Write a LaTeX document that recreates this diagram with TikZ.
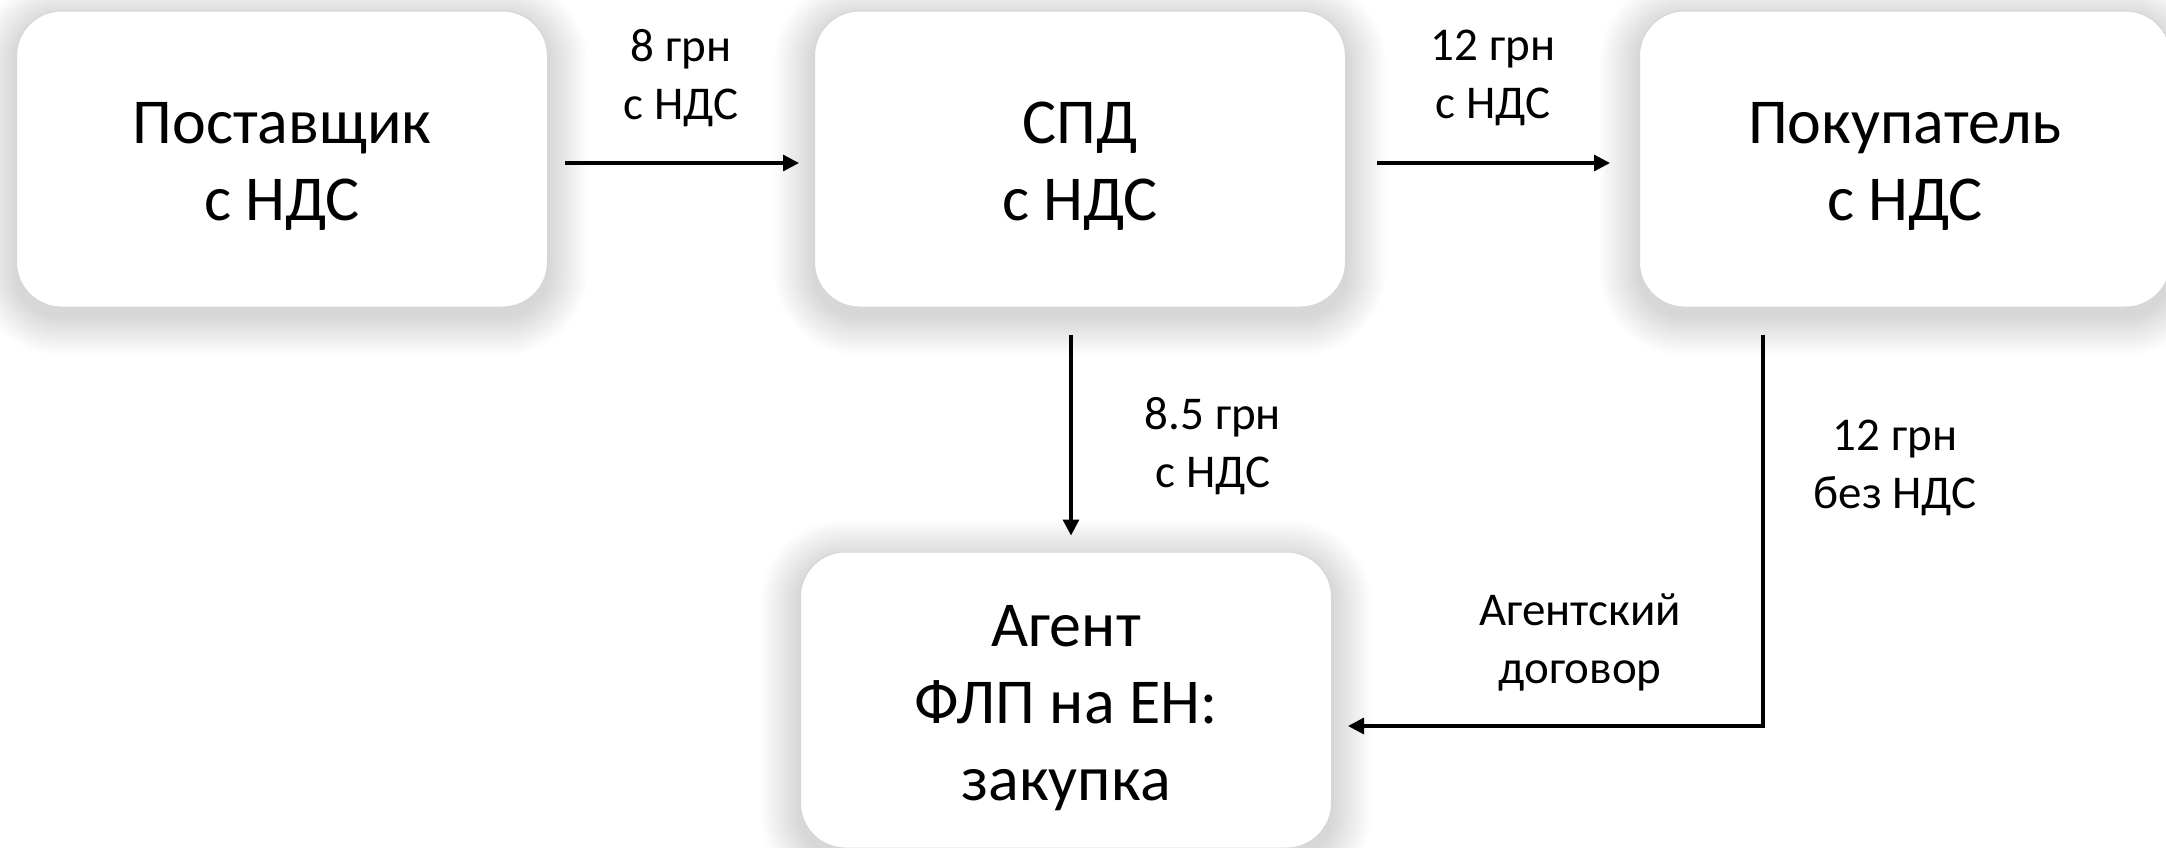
\documentclass[tikz,border=0pt]{standalone}
\usepackage{fontspec}
\setmainfont{Carlito}
\usetikzlibrary{arrows.meta,backgrounds}
\begin{document}
\begin{tikzpicture}[x=1pt,y=-1pt,
 box/.style={draw=black!16, line width=1pt, fill=white, rounded corners=45pt,
   minimum width=531pt, minimum height=296pt, inner sep=0pt},
 boxtext/.style={align=center, inner sep=0pt, font=\fontsize{64}{77}\selectfont},
 lbl/.style={align=center, inner sep=0pt, font=\fontsize{47}{58}\selectfont},
 arr/.style={line width=3.2pt, -{Triangle[length=16pt,width=16pt]}}
]
\useasboundingbox (0,0) rectangle (2166,847);
\node[box] (sup) at (282,159) {};
\node[box] (spd) at (1080,159) {};
\node[box] (buy) at (1905,159) {};
\node[box] (agt) at (1066,700) {};

\node[boxtext] (supt) at ([yshift=-7pt]sup.center) {Поставщик\\с НДС};
\node[boxtext] (spdt) at ([yshift=-7pt]spd.center) {СПД\\с НДС};
\node[boxtext] (buyt) at ([yshift=-7pt]buy.center) {Покупатель\\с НДС};
\node[boxtext] (agtt) at ([yshift=-8pt]agt.center) {Агент\\ФЛП на ЕН:\\закупка};

\begin{pgfonlayer}{background}
\fill[white] (0,0) rectangle (2166,847);
\foreach \n in {sup,spd,buy,agt}{
  \foreach \i in {1,...,20}{
    \pgfmathsetmacro\d{\i*2}
    \pgfmathsetmacro\r{45+\i*2}
    \fill[black, opacity=0.008, rounded corners=\r pt]
      ([shift={(-\d pt,\d pt-8pt)}]\n.north west) rectangle ([shift={(\d pt,-\d pt-8pt)}]\n.south east);
  }
}
\end{pgfonlayer}

\draw[arr] ([xshift=17pt,yshift=-4pt]sup.east) -- ([xshift=-15pt,yshift=-4pt]spd.west);
\draw[arr] ([xshift=31pt,yshift=-4pt]spd.east) -- ([xshift=-29pt,yshift=-4pt]buy.west);
\draw[arr] ([xshift=-9pt,yshift=-27pt]spd.south) -- ([xshift=5pt,yshift=16pt]agt.north);
\draw[arr] ([xshift=-142pt,yshift=-27pt]buy.south) |- ([xshift=16pt,yshift=-26pt]agt.east);

\node[lbl] (l1) at (681,78) {8 грн\\с НДС};
\node[lbl] (l2) at (1493,78) {12 грн\\с НДС};
\node[lbl] (l3) at (1213,446) {8.5 грн\\с НДС};
\node[lbl] (l4) at (1895,468) {12 грн\\без НДС};
\node[lbl] (l5) at (1580,642) {Агентский\\договор};
\end{tikzpicture}
\end{document}
